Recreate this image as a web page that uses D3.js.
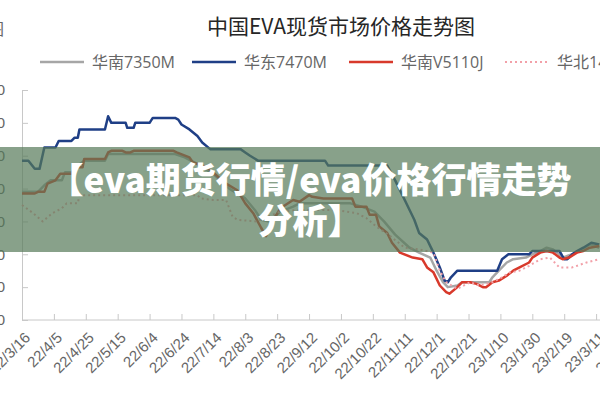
<!DOCTYPE html>
<meta charset="utf-8">
<script src="https://cdn.jsdelivr.net/npm/d3@7"></script>

<style>
body { margin: 0; background: #fff; }
svg { display: block; font-family: "Open Sans", "Noto Sans CJK SC", sans-serif; }
.axis path, .axis line { stroke: #c8c8c8; }
.axis text { fill: #666; font-size: 15px; }
.legend text { fill: #666; font-size: 16px; font-family: "Open Sans", "Noto Sans CJK SC", sans-serif; }
.title { fill: #262626; font-size: 21px; font-family: "Noto Sans CJK SC", sans-serif; }
.banner text { fill: #fff; font-weight: 900; font-size: 35px; font-family: "Noto Sans CJK SC", sans-serif; }
</style>

<div id="chart"></div>

<script>
// series names (legend order)
const seriesNames = ["华南7350M", "华东7470M", "华南V5110J", "华北14J2"];
const seriesColors = ["#a6a6a6", "#1f3f86", "#d8392b", "#f2a0a8"];

// tick labels on the date axis (every 20 days)
const tickDates = ["2022-03-16", "2022-04-05", "2022-04-25", "2022-05-15", "2022-06-04",
  "2022-06-24", "2022-07-14", "2022-08-03", "2022-08-23", "2022-09-12", "2022-10-02",
  "2022-10-22", "2022-11-11", "2022-12-01", "2022-12-21", "2023-01-10", "2023-01-30",
  "2023-02-19", "2023-03-11", "2023-03-31"];
const yTicks = [14000, 16000, 18000, 20000, 22000, 24000, 26000, 28000];

// price series (yuan/ton)
const south7350 = [
  ["2022-03-16", 21800], ["2022-03-26", 21800], ["2022-03-30", 22200], ["2022-04-03", 22500],
  ["2022-04-10", 22500], ["2022-04-12", 23000], ["2022-04-18", 23000], ["2022-04-20", 23400],
  ["2022-04-24", 23700], ["2022-05-07", 23700], ["2022-05-09", 24100], ["2022-06-20", 24100],
  ["2022-06-26", 23900], ["2022-07-06", 23400], ["2022-07-15", 22800], ["2022-07-24", 22000],
  ["2022-08-03", 21400], ["2022-08-09", 20700], ["2022-08-13", 20100], ["2022-08-18", 20000],
  ["2022-08-25", 20600], ["2022-09-02", 20900], ["2022-09-06", 21100], ["2022-10-08", 21100],
  ["2022-10-15", 20900], ["2022-10-23", 20600], ["2022-10-29", 20000], ["2022-11-05", 19200],
  ["2022-11-14", 18400], ["2022-11-20", 18100], ["2022-11-27", 17800], ["2022-12-01", 17000],
  ["2022-12-05", 16300], ["2022-12-08", 16000], ["2022-12-14", 16100], ["2022-12-17", 16300],
  ["2023-01-03", 16300], ["2023-01-05", 16600], ["2023-01-09", 17000], ["2023-01-14", 17500],
  ["2023-01-18", 17700], ["2023-01-26", 17800], ["2023-01-30", 18000], ["2023-02-04", 18200],
  ["2023-02-08", 18400], ["2023-02-12", 18300], ["2023-02-18", 17800], ["2023-02-24", 18000],
  ["2023-03-03", 18300], ["2023-03-07", 18600], ["2023-03-13", 18400]
];

const east7470 = [
  ["2022-03-16", 23700], ["2022-03-20", 23700], ["2022-03-24", 23200], ["2022-03-27", 23200],
  ["2022-03-30", 24500], ["2022-04-06", 24500], ["2022-04-08", 24900], ["2022-04-16", 24900],
  ["2022-04-18", 25100], ["2022-04-20", 25100], ["2022-04-21", 25600], ["2022-05-07", 25600],
  ["2022-05-09", 26400], ["2022-05-11", 26000], ["2022-05-20", 26000], ["2022-05-21", 25700],
  ["2022-05-25", 25700], ["2022-05-26", 26000], ["2022-06-04", 26000], ["2022-06-06", 26300],
  ["2022-06-20", 26300], ["2022-06-22", 26200], ["2022-06-24", 25900], ["2022-06-29", 25600],
  ["2022-07-04", 25200], ["2022-07-07", 24800], ["2022-07-12", 24400], ["2022-07-31", 24400],
  ["2022-08-03", 24200], ["2022-08-06", 24000], ["2022-08-11", 23700], ["2022-08-26", 23700],
  ["2022-09-22", 23700], ["2022-09-24", 23400], ["2022-10-31", 23400], ["2022-11-05", 22500],
  ["2022-11-11", 21300], ["2022-11-17", 20100], ["2022-11-20", 19300], ["2022-11-25", 18900],
  ["2022-11-29", 18100], ["2022-12-03", 17200], ["2022-12-06", 16400], ["2022-12-08", 16300],
  ["2022-12-10", 16600], ["2022-12-14", 17000], ["2023-01-08", 17000], ["2023-01-11", 17700],
  ["2023-01-15", 18000], ["2023-01-28", 18000], ["2023-01-30", 18200], ["2023-02-16", 18200],
  ["2023-02-19", 17700], ["2023-02-21", 17700], ["2023-02-24", 18000], ["2023-02-27", 18200],
  ["2023-03-03", 18400], ["2023-03-08", 18700], ["2023-03-13", 18600]
];

const southV5110 = [
  ["2022-03-16", 21700], ["2022-03-24", 21700], ["2022-03-26", 21800], ["2022-03-30", 21800],
  ["2022-04-01", 22300], ["2022-04-06", 22500], ["2022-04-09", 22900], ["2022-04-16", 22900],
  ["2022-04-18", 23300], ["2022-04-23", 23300], ["2022-04-24", 23800], ["2022-05-07", 23800],
  ["2022-05-09", 24200], ["2022-05-11", 24300], ["2022-05-18", 24300], ["2022-05-20", 24200],
  ["2022-05-23", 24200], ["2022-05-25", 24300], ["2022-06-19", 24300], ["2022-06-21", 24200],
  ["2022-06-29", 23900], ["2022-07-01", 23600], ["2022-07-10", 23300], ["2022-07-16", 22800],
  ["2022-07-22", 22300], ["2022-07-29", 21900], ["2022-08-03", 21100], ["2022-08-08", 20500],
  ["2022-08-13", 19600], ["2022-08-16", 19100], ["2022-08-20", 20000], ["2022-08-25", 20800],
  ["2022-09-02", 21300], ["2022-09-06", 21200], ["2022-09-12", 21600], ["2022-09-14", 21500],
  ["2022-09-21", 21400], ["2022-10-09", 21400], ["2022-10-11", 20900], ["2022-10-18", 20900],
  ["2022-10-20", 20400], ["2022-10-24", 20400], ["2022-10-26", 19700], ["2022-10-31", 19300],
  ["2022-11-03", 18700], ["2022-11-08", 18100], ["2022-11-16", 17800], ["2022-11-22", 17700],
  ["2022-11-25", 17200], ["2022-11-29", 16900], ["2022-12-03", 16100], ["2022-12-07", 15700],
  ["2022-12-09", 15600], ["2022-12-14", 16000], ["2022-12-17", 16300], ["2022-12-22", 16300],
  ["2022-12-26", 16200], ["2022-12-30", 16000], ["2023-01-01", 16000], ["2023-01-05", 16300],
  ["2023-01-09", 16400], ["2023-01-14", 16700], ["2023-01-18", 17000], ["2023-01-22", 17200],
  ["2023-01-28", 17500], ["2023-01-30", 17800], ["2023-02-04", 18100], ["2023-02-08", 18200],
  ["2023-02-12", 18100], ["2023-02-16", 17800], ["2023-02-18", 17700], ["2023-02-22", 17800],
  ["2023-02-27", 18100], ["2023-03-03", 18200], ["2023-03-07", 18400], ["2023-03-13", 18500]
];

const north14 = [
  ["2022-03-16", 21000], ["2022-03-23", 20500], ["2022-03-29", 20000], ["2022-04-04", 20500],
  ["2022-04-10", 20800], ["2022-04-13", 21100], ["2022-04-20", 21100], ["2022-04-21", 21600],
  ["2022-07-04", 21600], ["2022-07-06", 21400], ["2022-07-14", 21300], ["2022-07-22", 21300],
  ["2022-07-24", 20800], ["2022-07-26", 20300], ["2022-07-29", 20100], ["2022-08-10", 20000],
  ["2022-08-15", 20200], ["2022-08-25", 20600], ["2022-09-06", 20700], ["2022-09-29", 20700],
  ["2022-10-12", 20500], ["2022-10-18", 20200], ["2022-10-24", 19700], ["2022-11-02", 19100],
  ["2022-11-11", 18400], ["2022-11-20", 18300], ["2022-11-29", 18100], ["2022-12-03", 17000],
  ["2022-12-07", 16300], ["2022-12-14", 15900], ["2022-12-22", 16300], ["2022-12-28", 16100],
  ["2023-01-05", 16300], ["2023-01-11", 16600], ["2023-01-16", 16900], ["2023-01-22", 17000],
  ["2023-01-28", 17300], ["2023-02-04", 17700], ["2023-02-10", 17800], ["2023-02-16", 17200],
  ["2023-02-24", 17200], ["2023-03-05", 17500], ["2023-03-13", 17700]
];

const width = 600, height = 400;
const parse = d3.timeParse("%Y-%m-%d");
const fmt = d3.timeFormat("%y/%-m/%-d");

const svg = d3.select("#chart").append("svg")
  .attr("width", width)
  .attr("height", height);

// plot runs past the right edge of the picture
const x = d3.scaleTime()
  .domain([parse("2022-03-16"), parse("2023-03-31")])
  .range([22, 628]);
const y = d3.scaleLinear()
  .domain([14000, 28000])
  .range([320, 90]);

// y axis (labels mostly cut off on the left)
svg.append("g")
  .attr("class", "axis")
  .attr("transform", "translate(22,0)")
  .call(d3.axisLeft(y).tickValues(yTicks).tickSizeInner(-6).tickSizeOuter(0).tickPadding(17));

// x axis with rotated labels
const xAxis = svg.append("g")
  .attr("class", "axis")
  .attr("transform", "translate(0,320)")
  .call(d3.axisBottom(x).tickValues(tickDates.map(parse)).tickSizeInner(-6).tickSizeOuter(0).tickFormat(fmt));
xAxis.select(".domain").attr("d", "M22,0H600");
xAxis.selectAll("text")
  .attr("x", 0).attr("y", 0).attr("dy", "0.35em")
  .attr("text-anchor", "end")
  .attr("transform", "translate(5,15) rotate(-45)");

// lines
const line = d3.line()
  .x(d => x(parse(d[0])))
  .y(d => y(d[1]));

const allSeries = [south7350, east7470, southV5110, north14];
const dashes = [null, null, null, "2,3"];
const widths = [2.5, 2.5, 2.5, 2];

svg.append("g").selectAll("path")
  .data(allSeries)
  .join("path")
  .attr("d", line)
  .attr("fill", "none")
  .attr("stroke", (d, i) => seriesColors[i])
  .attr("stroke-width", (d, i) => widths[i])
  .attr("stroke-dasharray", (d, i) => dashes[i])
  .attr("stroke-linejoin", "round");

// title
svg.append("text")
  .attr("class", "title")
  .attr("x", 207).attr("y", 34)
  .text("中国EVA现货市场价格走势图");

svg.append("text")
  .attr("x", 4).attr("y", 35)
  .attr("text-anchor", "end")
  .attr("fill", "#666")
  .style("font-size", "16px")
  .style("font-family", "Noto Sans CJK SC")
  .text("图");

// legend
const legendX = [40, 192, 349, 505];
const legend = svg.append("g").attr("class", "legend")
  .selectAll("g")
  .data(seriesNames)
  .join("g")
  .attr("transform", (d, i) => `translate(${legendX[i]},62)`);
legend.append("line")
  .attr("x1", 0).attr("x2", 44)
  .attr("stroke", (d, i) => seriesColors[i])
  .attr("stroke-width", (d, i) => widths[i])
  .attr("stroke-dasharray", (d, i) => dashes[i]);
legend.append("text")
  .attr("x", 52).attr("dy", "0.35em")
  .text(d => d);

// banner over the chart, two lines of text
const banner = svg.append("g").attr("class", "banner");
banner.append("rect")
  .attr("x", 0).attr("y", 147)
  .attr("width", width).attr("height", 105)
  .attr("fill", "rgb(86,121,88)")
  .attr("fill-opacity", 0.7);
banner.append("text")
  .attr("x", 310).attr("y", 193)
  .attr("text-anchor", "middle")
  .selectAll("tspan")
  .data(["【eva期货行情/eva价格行情走势", "分析】"])
  .join("tspan")
  .attr("x", 310)
  .attr("dy", (d, i) => i ? 41 : 0)
  .text(d => d);
</script>
